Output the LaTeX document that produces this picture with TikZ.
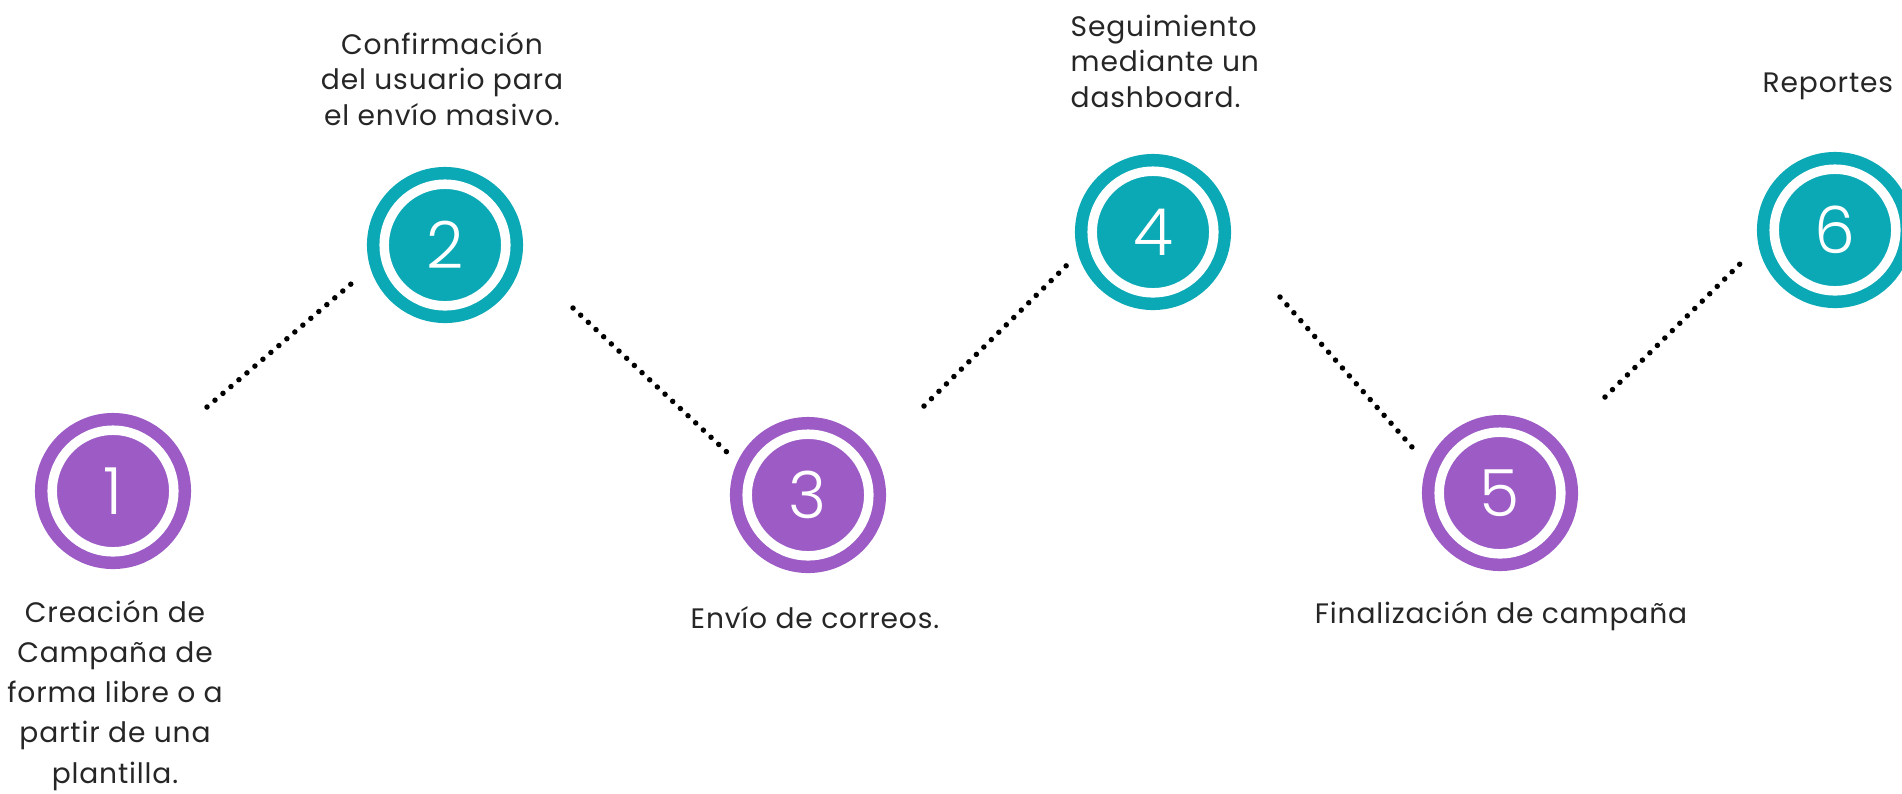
\documentclass[tikz,border=0pt]{standalone}
\usepackage{fontspec}
\setmainfont{Poppins}[LetterSpace=3]
\IfFontExistsTF{Poppins Light}{\newfontfamily\numfont{Poppins Light}}{\newfontfamily\numfont{Poppins}}
\definecolor{tealc}{HTML}{0AA9B5}
\definecolor{purp}{HTML}{9C5BC5}
\definecolor{txt}{HTML}{262626}
\begin{document}
\begin{tikzpicture}[x=0.01cm,y=-0.01cm,
  stepcirc/.style={circle,inner sep=0pt,minimum size=1.215cm,fill=#1,draw=#1,
    double=white,double distance=0.095cm,line width=0.125cm,text=white,
    font=\numfont\fontsize{18.5pt}{18.5pt}\selectfont},
  dotline/.style={draw=black,line width=0.055cm,line cap=round,dash pattern=on 0pt off 0.105cm},
  lbl/.style={text=txt,inner sep=0pt,font=\fontsize{8pt}{10pt}\selectfont},
  lblwide/.style={text=txt,inner sep=0pt,font=\fontsize{8pt}{11.4pt}\selectfont}]
\useasboundingbox (0,0) rectangle (1902,793);
% circles
\node[stepcirc=purp]  (c1) at (113,491) {1};
\node[stepcirc=tealc] (c2) at (445,245) {2};
\node[stepcirc=purp]  (c3) at (808,495) {3};
\node[stepcirc=tealc] (c4) at (1153,232) {4};
\node[stepcirc=purp]  (c5) at (1500,493) {5};
\node[stepcirc=tealc] (c6) at (1835,230) {6};
% dotted connectors
\coordinate (a1) at (207,407); \coordinate (b1) at (358,278);
\coordinate (a2) at (573,308); \coordinate (b2) at (730,455);
\coordinate (a3) at (924,406); \coordinate (b3) at (1067,265);
\coordinate (a4) at (1280,297); \coordinate (b4) at (1412,447);
\coordinate (a5) at (1605,397); \coordinate (b5) at (1747,257);
\draw[dotline] (a1) -- (b1);
\draw[dotline] (a2) -- (b2);
\draw[dotline] (a3) -- (b3);
\draw[dotline] (a4) -- (b4);
\draw[dotline] (a5) -- (b5);
% labels (base anchor = baseline of last line)
\node[lblwide,align=center,anchor=base] (t1) at (115,783) {Creación de\\Campaña de\\forma libre o a\\partir de una\\plantilla.};
\node[lbl,align=center,anchor=base] (t2) at (442,125) {Confirmación\\del usuario para\\el envío masivo.};
\node[lbl,anchor=base] (t3) at (815,628) {Envío de correos.};
\node[lbl,align=left,anchor=base west] (t4) at (1070,107) {Seguimiento\\mediante un\\dashboard.};
\node[lbl,anchor=base] (t5) at (1501,623) {Finalización de campaña};
\node[lbl,anchor=base west] (t6) at (1762,92) {Reportes};
\end{tikzpicture}
\end{document}
